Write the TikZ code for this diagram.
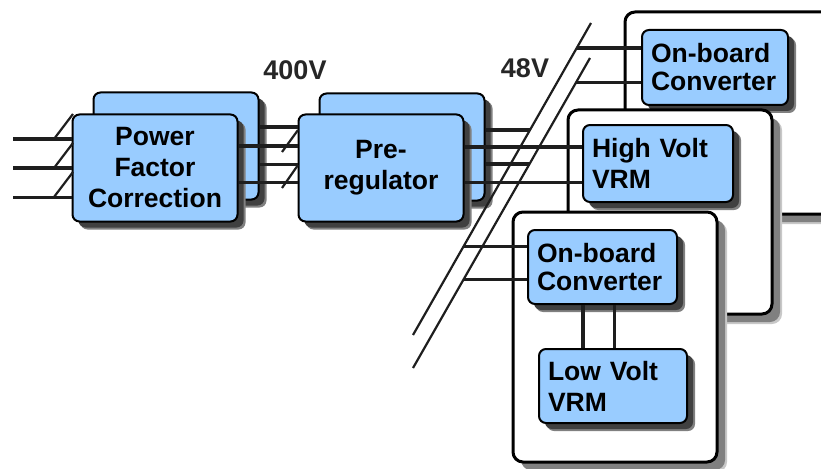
\documentclass[tikz,border=0pt]{standalone}
\usepackage{fontspec}
\setmainfont{Liberation Sans}
\usetikzlibrary{calc,shadows}
\definecolor{boxblue}{RGB}{153,204,255}
\definecolor{shdark}{RGB}{64,64,64}
\definecolor{shgrey}{RGB}{128,128,128}
\definecolor{shlight}{RGB}{200,200,200}
\definecolor{wirec}{RGB}{30,30,30}
\tikzset{
  blk/.style={draw=black,line width=2pt,fill=boxblue,rounded corners=7pt,
              font=\fontsize{26.5}{31}\selectfont\bfseries,
              general shadow={shadow xshift=8pt,shadow yshift=-8pt,fill=shgrey,opacity=1},
              general shadow={shadow xshift=6pt,shadow yshift=-6pt,fill=shdark,opacity=1}},
  stage/.style={blk,align=center,inner sep=0pt,minimum width=165pt,minimum height=107pt},
  unit/.style={blk,align=left,inner xsep=9pt,inner ysep=0pt},
  obcfont/.style={font=\fontsize{26.5}{28}\selectfont\bfseries},
  board/.style={draw=black,line width=3pt,fill=white,rounded corners=10pt,
              general shadow={shadow xshift=10pt,shadow yshift=-10pt,fill=shlight,opacity=1},
              general shadow={shadow xshift=8pt,shadow yshift=-8pt,fill=shgrey,opacity=1}},
  wire/.style={draw=wirec,line width=4.5pt},
  wiret/.style={draw=wirec,line width=3pt},
  bus/.style={draw=wirec,line width=2.2pt},
  lbl/.style={font=\fontsize{27}{27}\selectfont\bfseries,text=black!85},
}
\begin{document}
\begin{tikzpicture}[x=1pt,y=-1pt]
  \useasboundingbox (0,0) rectangle (821,468);
  \clip (0,0) rectangle (821,468);

  % front end: two stacked stages each
  \node[stage] (pfcback) at (176,146) {};
  \node[stage] (pfc)     at (155,168) {Power\\Factor\\Correction};
  \node[stage] (preback) at (402,147) {};
  \node[stage] (pre)     at (381,168) {Pre-\\regulator};

  \node[lbl] (v400) at (295,70) {400V};
  \node[lbl] (v48)  at (525,68) {48V};

  % ac input
  \foreach \y/\w in {139/wire,168/wire,197/wiret} {
    \draw[\w] (13,\y) -- (pfc.west |- 0,\y);
    \draw[bus] (54,\y) -- (73,\y-25);
  }

  % 400V link
  \draw[wire]  (pfcback.east |- 0,127) -- (pre.west |- 0,127);
  \draw[wire]  (pfc.east |- 0,146)     -- (pre.west |- 0,146);
  \draw[wiret] (pfcback.east |- 0,164) -- (pre.west |- 0,164);
  \draw[wiret] (pfc.east |- 0,182)     -- (pre.west |- 0,182);
  \draw[bus] (282,152) -- (298,130);
  \draw[bus] (282,188) -- (298,165);

  % 48V bus
  \coordinate (busa1) at (591,23);
  \coordinate (busa2) at (413,335);
  \coordinate (busb1) at (590,58);
  \coordinate (busb2) at (413,368);
  \draw[bus] (busa1) -- (busa2);
  \draw[bus] (busb1) -- (busb2);
  \coordinate (tapa1) at ($(busa1)!0.0801!(busa2)$);
  \coordinate (tapa2) at ($(busa1)!0.3429!(busa2)$);
  \coordinate (tapa3) at ($(busa1)!0.7179!(busa2)$);
  \coordinate (tapb1) at ($(busb1)!0.0806!(busb2)$);
  \coordinate (tapb2) at ($(busb1)!0.3419!(busb2)$);
  \coordinate (tapb3) at ($(busb1)!0.7161!(busb2)$);
  \draw[wire] (preback.east |- tapa2) -- (tapa2);
  \draw[wire] (preback.east |- tapb2) -- (tapb2);

  % boards
  \node[board,minimum width=300pt,minimum height=202pt] (brdA) at (775,113) {};
  \node[unit,obcfont,text width=128pt,minimum width=146pt,minimum height=75pt]
    (obcA) at (715,67.5) {On-board\\Converter};
  \draw[wire]  (tapa1) -- (tapa1 -| obcA.west);
  \draw[wiret] (tapb1) -- (tapb1 -| obcA.west);

  \node[board,minimum width=204pt,minimum height=204pt] (brdB) at (670,212) {};
  \node[unit,text width=132pt,minimum width=150pt,minimum height=77pt]
    (hv) at (658,163.5) {High Volt\\VRM};
  \draw[wire]  (pre.east |- 0,147) -- (hv.west |- 0,147);
  \draw[wiret] (pre.east |- 0,182) -- (hv.west |- 0,182);

  \node[board,minimum width=204pt,minimum height=250pt] (brdC) at (615,337) {};
  \node[unit,obcfont,text width=131pt,minimum width=149pt,minimum height=74pt]
    (obcB) at (602.5,267) {On-board\\Converter};
  \node[unit,text width=130pt,minimum width=148pt,minimum height=74pt]
    (lv) at (613,386) {Low Volt\\VRM};
  \draw[wiret] (tapa3) -- (tapa3 -| obcB.west);
  \draw[wiret] (tapb3) -- (tapb3 -| obcB.west);
  \draw[wire]  (obcB.south -| 583,0) -- (lv.north -| 583,0);
  \draw[wiret] (obcB.south -| 614,0) -- (lv.north -| 614,0);
\end{tikzpicture}
\end{document}
